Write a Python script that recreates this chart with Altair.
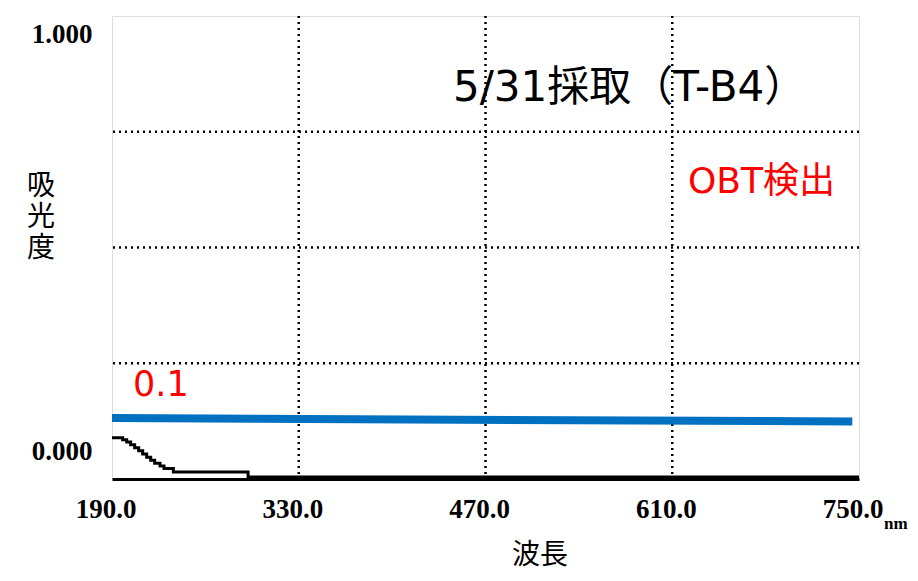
import altair as alt
import pandas as pd

# spectrum trace (wavelength nm, absorbance)
wavelength = [190, 198, 201, 204, 207, 210, 213, 216, 219, 222, 226, 229, 236, 292, 750]
absorbance = [0.034, 0.029, 0.024, 0.017, 0.010, 0.003, -0.005, -0.013, -0.020,
              -0.027, -0.034, -0.040, -0.048, -0.060, -0.060]
# hand-drawn reference line ("0.1")
ref_wavelength = [190, 745]
ref_absorbance = [0.081, 0.073]
# axes
x_ticks = [190, 330, 470, 610, 750]
x_tick_labels = ["190.0", "330.0", "470.0", "610.0", "750.0"]
y_ticks = [0, 1]
x_grid = [330, 470, 610]
y_grid = [0.2125, 0.49, 0.7675]

X_DOMAIN = [190, 750]
Y_DOMAIN = [-0.065, 1.045]
xs = alt.Scale(domain=X_DOMAIN, nice=False, zero=False)
ys = alt.Scale(domain=Y_DOMAIN, nice=False, zero=False)

LABEL_FONT = "Liberation Serif"
CJK = "DejaVu Sans, Noto Sans CJK JP"

spec_df = pd.DataFrame({"wl": wavelength, "abs": absorbance})
ref_df = pd.DataFrame({"wl": ref_wavelength, "abs": ref_absorbance})
xg_df = pd.DataFrame({"wl": x_grid})
yg_df = pd.DataFrame({"abs": y_grid})
xt_df = pd.DataFrame({"wl": x_ticks, "lab": x_tick_labels})

xgrid = alt.Chart(xg_df).mark_rule(color="black", strokeWidth=2.5, strokeDash=[2, 4]).encode(
    x=alt.X("wl:Q", scale=xs))
ygrid = alt.Chart(yg_df).mark_rule(color="black", strokeWidth=2.5, strokeDash=[2, 4]).encode(
    y=alt.Y("abs:Q", scale=ys))

spectrum = alt.Chart(spec_df).mark_line(color="black", strokeWidth=3, interpolate="step-after").encode(
    x=alt.X("wl:Q", scale=xs,
            axis=alt.Axis(values=x_ticks, title=None, grid=False, ticks=False, labels=False,
                          domain=True, domainColor="black", domainWidth=3)),
    y=alt.Y("abs:Q", scale=ys,
            axis=alt.Axis(values=y_ticks, format=".3f", title=None, grid=False, ticks=False,
                          domain=False, labelFont=LABEL_FONT, labelFontWeight="bold",
                          labelFontSize=27, labelColor="black", labelPadding=20, labelFlush=False)),
)

xlabels = alt.Chart(xt_df).mark_text(
    font=LABEL_FONT, fontWeight="bold", fontSize=27, color="black", baseline="middle", dx=-6
).encode(x=alt.X("wl:Q", scale=xs), y=alt.value(494), text="lab:N")

ref_line = alt.Chart(ref_df).mark_line(color="#0070C0", strokeWidth=8).encode(
    x=alt.X("wl:Q", scale=xs), y=alt.Y("abs:Q", scale=ys))


def label(text, x, y, size, color="black", font=CJK, align="left", weight="normal", **kw):
    return alt.Chart(pd.DataFrame({"t": [text]})).mark_text(
        align=align, baseline="middle", fontSize=size, color=color, font=font,
        fontWeight=weight, **kw
    ).encode(text="t:N", x=alt.value(x), y=alt.value(y))


title_txt = label("5/31採取（T-B4）", 341, 72, 42)
obt_txt = label("OBT検出", 576, 166, 36, color="#FF0000")
ref_txt = label("0.1", 21, 369, 35, color="#FF0000")
ytitle = label("吸\n光\n度", -71, 171, 28, align="center", font="Noto Sans CJK JP",
               lineBreak="\n", lineHeight=31)
xtitle = label("波長", 428, 540, 28, align="center", font="Noto Sans CJK JP")
nm_txt = label("nm", 772, 508, 17, font=LABEL_FONT, weight="bold")

chart = alt.layer(
    xgrid, ygrid, spectrum, ref_line, xlabels, title_txt, obt_txt, ref_txt, ytitle, xtitle, nm_txt
).properties(
    width=747, height=463,
    autosize=alt.AutoSizeParams(type="none"),
    padding={"left": 104, "top": 8, "right": 51, "bottom": 94},
).configure_view(stroke="black", strokeWidth=2).configure(background="white")

chart.save("out.html", embed_options={"renderer": "svg", "actions": False})
